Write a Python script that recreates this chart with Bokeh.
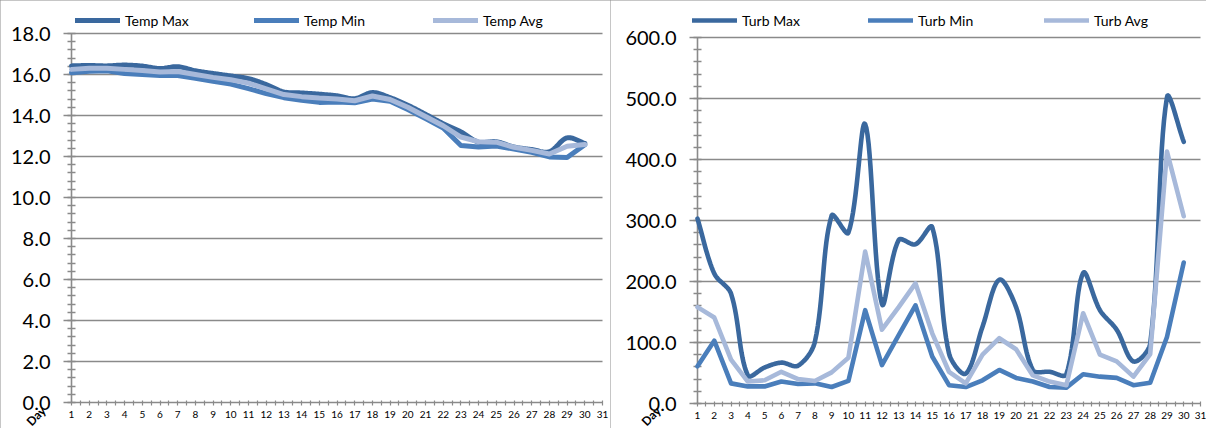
import math
from bokeh.plotting import figure
from bokeh.layouts import row
from bokeh.models import (Range1d, SingleIntervalTicker, FixedTicker, PrintfTickFormatter,
                          Legend, LegendItem, Label)
from bokeh.embed import file_html
from bokeh.resources import INLINE

# ---------------- data ----------------
days = list(range(1, 31))
x_ticks = list(range(1, 32))
x_tick_labels = [str(d) for d in x_ticks]
x_title = "Day"

temp_names = ["Temp Max", "Temp Min", "Temp Avg"]
temp_max = [16.42, 16.44, 16.42, 16.46, 16.41, 16.29, 16.38, 16.18, 16.05, 15.93,
            15.80, 15.51, 15.15, 15.10, 15.04, 14.96, 14.82, 15.12, 14.87, 14.50,
            14.06, 13.60, 13.20, 12.70, 12.72, 12.46, 12.34, 12.23, 12.91, 12.64]
temp_min = [16.08, 16.16, 16.18, 16.05, 16.00, 15.95, 15.95, 15.82, 15.67, 15.53,
            15.31, 15.07, 14.87, 14.74, 14.64, 14.66, 14.62, 14.80, 14.69, 14.29,
            13.85, 13.39, 12.54, 12.46, 12.51, 12.36, 12.20, 11.98, 11.95, 12.57]
temp_avg = [16.25, 16.30, 16.30, 16.25, 16.20, 16.12, 16.15, 16.00, 15.86, 15.74,
            15.58, 15.30, 15.02, 14.92, 14.85, 14.80, 14.72, 14.95, 14.78, 14.40,
            13.95, 13.50, 12.95, 12.72, 12.70, 12.45, 12.30, 12.12, 12.50, 12.58]

turb_names = ["Turb Max", "Turb Min", "Turb Avg"]
turb_max = [303, 213, 180, 46, 59, 67, 62, 101, 308, 280, 458, 163, 268, 261, 289,
            82, 49, 126, 203, 158, 55, 52, 48, 214, 153, 121, 69, 98, 502, 429]
turb_min = [61, 103, 33, 28, 28, 36, 32, 33, 27, 37, 153, 63, 112, 161, 77,
            30, 27, 38, 55, 42, 36, 27, 26, 48, 44, 42, 30, 34, 109, 231]
turb_avg = [158, 141, 72, 36, 38, 52, 40, 37, 51, 75, 249, 121, 158, 197, 115,
            52, 33, 80, 107, 89, 46, 36, 30, 148, 80, 69, 44, 81, 413, 307]

COLORS = ["#3A689E", "#4A7EBB", "#A7B9DA"]
GRID = "#8a8a8a"
FONT = "Lato"
H = 428


def smooth(xs, ys, kx, ky, n=16):
    """Excel-like smoothed line: cubic Bezier through the data points with control
    points scaled by the on-screen segment lengths (kx, ky = px per data unit)."""
    pts = [(x * kx, y * ky) for x, y in zip(xs, ys)]
    dist = lambda a, b: math.hypot(b[0] - a[0], b[1] - a[1])
    out_x, out_y = [], []
    t3 = 1.0 / 3.0
    for i in range(len(pts) - 1):
        p0 = pts[i - 1] if i > 0 else pts[i]
        p1 = pts[i]
        p2 = pts[i + 1]
        p3 = pts[i + 2] if i + 2 < len(pts) else pts[i + 1]
        d01, d12, d23 = dist(p0, p1), dist(p1, p2), dist(p2, p3)
        f1 = d12 / (d01 + d12) if d01 + d12 > 0 else 0
        f2 = d12 / (d12 + d23) if d12 + d23 > 0 else 0
        c1 = (p1[0] + (p2[0] - p0[0]) * f1 * t3, p1[1] + (p2[1] - p0[1]) * f1 * t3)
        c2 = (p2[0] - (p3[0] - p1[0]) * f2 * t3, p2[1] - (p3[1] - p1[1]) * f2 * t3)
        for k in range(n + (1 if i == len(pts) - 2 else 0)):
            t = k / n
            a, b, c, d = (1 - t) ** 3, 3 * (1 - t) ** 2 * t, 3 * (1 - t) * t ** 2, t ** 3
            out_x.append((a * p1[0] + b * c1[0] + c * c2[0] + d * p2[0]) / kx)
            out_y.append((a * p1[1] + b * c1[1] + c * c2[1] + d * p2[1]) / ky)
    return out_x, out_y


def make_panel(names, series, ymax, yint, width, px_x0, px_x1, px_ytop, px_y0,
               legend_x, label_w, day_px, lw):
    """px_*: pixel layout of the chart area inside the panel canvas."""
    sx = (px_x1 - px_x0) / 30.0           # px per day
    sy = (px_y0 - px_ytop) / float(ymax)  # px per unit
    xr = Range1d(1 - px_x0 / sx, 31 + (width - px_x1) / sx)
    yr = Range1d(-(H - px_y0) / sy, ymax + px_ytop / sy)

    p = figure(width=width, height=H, output_backend="svg", toolbar_location=None,
               x_range=xr, y_range=yr,
               min_border_left=0, min_border_right=0, min_border_top=0, min_border_bottom=0,
               background_fill_color="white", border_fill_color="white")
    p.outline_line_color = None
    p.styles = {"outline": "2px solid #8c8c8c", "outline-offset": "-2px"}
    p.xgrid.visible = False
    p.ygrid.visible = False

    # horizontal gridlines at the major y ticks
    grid_vals = [yint * k for k in range(1, int(round(ymax / yint)) + 1)]
    p.segment(x0=[1] * len(grid_vals), x1=[31] * len(grid_vals), y0=grid_vals, y1=grid_vals,
              line_color=GRID, line_width=1.6, level="underlay")

    # y axis
    yax = p.yaxis[0]
    yax.fixed_location = 1
    yax.bounds = (0, ymax)
    yax.level = "underlay"
    yax.ticker = SingleIntervalTicker(interval=yint, num_minor_ticks=5)
    yax.formatter = PrintfTickFormatter(format="%.1f")
    yax.major_label_text_font = FONT
    yax.major_label_text_font_size = "20px"
    yax.major_label_text_color = "#000000"
    yax.axis_line_color = GRID
    yax.axis_line_width = 1.6
    yax.major_tick_line_color = GRID
    yax.major_tick_line_width = 1.6
    yax.major_tick_out = 8
    yax.major_tick_in = 0
    yax.minor_tick_line_color = GRID
    yax.minor_tick_line_width = 1.4
    yax.minor_tick_out = 4
    yax.minor_tick_in = 4
    yax.major_label_standoff = 13

    # x axis (days)
    xax = p.xaxis[0]
    xax.fixed_location = 0
    xax.bounds = (1, 31)
    xax.level = "underlay"
    xax.ticker = FixedTicker(ticks=x_ticks, minor_ticks=[t + 0.5 for t in x_ticks[:-1]])
    xax.major_label_overrides = {t: lab for t, lab in zip(x_ticks, x_tick_labels)}
    xax.major_label_text_font = FONT
    xax.major_label_text_font_size = "10px"
    xax.major_label_text_color = "#000000"
    xax.axis_line_color = GRID
    xax.axis_line_width = 1.6
    xax.major_tick_line_color = GRID
    xax.major_tick_line_width = 1.2
    xax.major_tick_out = 3
    xax.major_tick_in = 2
    xax.minor_tick_line_color = GRID
    xax.minor_tick_line_width = 1.2
    xax.minor_tick_out = 3
    xax.minor_tick_in = 2
    xax.major_label_standoff = 5

    renderers = []
    for i, (name, ys) in enumerate(zip(names, series)):
        if i == 0:
            xs_s, ys_s = smooth(days, ys, sx, sy)
        else:
            xs_s, ys_s = days, ys
        r = p.line(xs_s, ys_s, line_color=COLORS[i], line_width=lw,
                   line_join="round", line_cap="round")
        renderers.append(r)

    legend_top = 11
    legend = Legend(items=[LegendItem(label=n, renderers=[r]) for n, r in zip(names, renderers)],
                    orientation="horizontal", location=(legend_x, H - 18 - legend_top),
                    glyph_width=45, glyph_height=18, label_height=18,
                    label_standoff=5, spacing=5,
                    label_width=label_w, padding=0, margin=0,
                    border_line_color=None, background_fill_alpha=0,
                    label_text_font=FONT, label_text_font_size="14px",
                    label_text_color="#000000")
    p.add_layout(legend, "center")

    # slanted "Day" caption at the lower-left corner
    p.add_layout(Label(x=1 + (day_px[0] - px_x0) / sx, y=-(day_px[1] - px_y0) / sy,
                       text=x_title, angle=math.pi / 4,
                       text_align="center", text_baseline="middle",
                       text_font=FONT, text_font_size="12px", text_font_style="bold",
                       text_color="#000000"))
    return p


p1 = make_panel(temp_names, [temp_max, temp_min, temp_avg], 18, 2, 610,
                71, 602, 33, 402, 75, 124, (35.5, 415.5), 5)
p2 = make_panel(turb_names, [turb_max, turb_min, turb_avg], 600, 100, 596,
                87, 590, 37, 403, 82, 121, (40.5, 415.5), 4.6)

layout = row(p1, p2)
open("out.html", "w").write(file_html(layout, INLINE))
